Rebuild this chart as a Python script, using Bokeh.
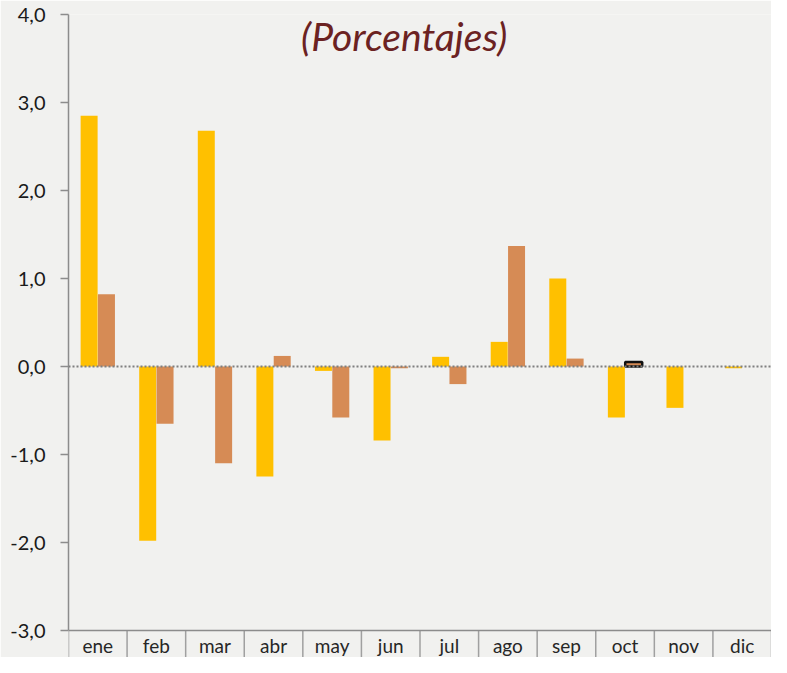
import numpy as np
from bokeh.plotting import figure
from bokeh.models import ColumnDataSource, Range1d, FixedTicker, CustomJSTickFormatter, Span, Label
from bokeh.core.properties import value
from bokeh.embed import file_html
from bokeh.resources import INLINE

# ---- data ----
months = ["ene", "feb", "mar", "abr", "may", "jun", "jul", "ago", "sep", "oct", "nov", "dic"]
serie_a = [2.85, -1.98, 2.68, -1.25, -0.05, -0.84, 0.11, 0.28, 1.00, -0.58, -0.47, -0.02]
serie_b = [0.82, -0.65, -1.10, 0.12, -0.58, -0.02, -0.20, 1.37, 0.09, 0.05, None, None]
highlight = ["oct"]
y_ticks = [-3, -2, -1, 0, 1, 2, 3, 4]
title_text = "(Porcentajes)"

Y_MIN, Y_MAX = -3.0, 4.0

YELLOW = "#FFC000"
ORANGE = "#D68B55"
GRAY = "#8C8C8C"
BG = "#F1F1EF"

W, H = 771, 657
TOP, LEFT, TABLE_PX = 14, 68, 27
plot_px = H - TOP - TABLE_PX
table_units = (Y_MAX - Y_MIN) * TABLE_PX / plot_px

n = len(months)
idx = np.arange(n)
centers = idx + 0.5
b_vals = np.array([np.nan if v is None else v for v in serie_b], dtype=float)

src_a = ColumnDataSource(dict(x=centers - 0.148, top=serie_a, m=months))
src_b = ColumnDataSource(dict(
    x=centers + 0.148, top=b_vals, m=months,
    lc=["#111111" if m in highlight else None for m in months],
    lw=[2.5 if m in highlight else 0 for m in months],
))

p = figure(width=W, height=H, output_backend="svg", toolbar_location=None,
           x_range=Range1d(0, n), y_range=Range1d(Y_MIN - table_units, Y_MAX),
           min_border_left=LEFT, min_border_right=0, min_border_top=TOP, min_border_bottom=0,
           x_axis_location=None)
p.background_fill_color = BG
p.border_fill_color = BG
p.outline_line_color = None
p.xgrid.visible = False
p.ygrid.visible = False

# y axis
ya = p.yaxis[0]
ya.ticker = FixedTicker(ticks=y_ticks)
ya.formatter = CustomJSTickFormatter(code="return tick.toFixed(1).replace('.', ',');")
ya.bounds = (Y_MIN, Y_MAX)
ya.axis_line_color = GRAY
ya.axis_line_width = 1.5
ya.major_tick_line_color = GRAY
ya.major_tick_line_width = 1.5
ya.major_tick_out = 8
ya.major_tick_in = 0
ya.minor_tick_line_color = None
ya.major_label_standoff = 15
ya.major_label_text_font = "Lato"
ya.major_label_text_font_size = "20px"
ya.major_label_text_color = "#1A1A1A"

# bars
p.vbar(x="x", top="top", bottom=0, width=0.29, source=src_a,
       fill_color=YELLOW, line_color=None)
p.vbar(x="x", top="top", bottom=0, width=0.29, source=src_b,
       fill_color=ORANGE, line_color="lc", line_width="lw")

# zero line
p.add_layout(Span(location=0, dimension="width", line_color="#7F7F7F",
                  line_width=2, line_dash="2 2"))

# category table under the axis
p.add_layout(Span(location=Y_MIN, dimension="width", line_color=GRAY, line_width=1.5))
bounds_x = np.arange(n + 1)
p.segment(x0=bounds_x, x1=bounds_x, y0=[Y_MIN] * (n + 1), y1=[Y_MIN - 1] * (n + 1),
          line_color="#A0A0A0", line_width=1.5)
p.text(x=centers, y=[Y_MIN] * n, text=months, text_align="center", text_baseline="top",
       y_offset=3, text_font=value("Lato"), text_font_size="19px", text_color="#262626")

# title
p.add_layout(Label(x=5.73, y=3.76, text=title_text, text_align="center",
                   text_baseline="middle", text_font="Lato", text_font_style="italic",
                   text_font_size="39px", text_color="#6B2222"))

open("out.html", "w").write(file_html(p, INLINE))
